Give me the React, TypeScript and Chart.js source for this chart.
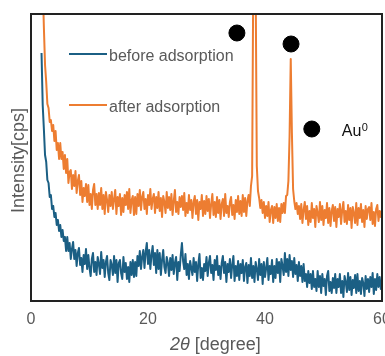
import React, { useEffect, useRef } from "react";
import { Chart, registerables } from "chart.js";

Chart.register(...registerables);

// 2θ scan grid (degrees): first angle and step of the measurement
const TWO_THETA_START = 1.8;
const TWO_THETA_STEP = 0.2;

// Intensity [cps], one value per 2θ step
const BEFORE_ADSORPTION = [
  248, 196, 172, 146, 139, 121, 118, 104, 106, 92,
  95, 84, 88, 76, 81, 70, 76, 64, 71, 60,
  64, 50, 64, 50, 58, 42, 52, 59, 42, 51,
  35, 48, 53, 36, 43, 29, 46, 37, 52, 32,
  46, 33, 25, 42, 48, 29, 39, 26, 44, 37,
  27, 49, 33, 41, 24, 39, 45, 28, 21, 41,
  36, 26, 45, 28, 41, 19, 38, 41, 28, 22,
  44, 29, 38, 22, 34, 19, 39, 26, 41, 24,
  39, 25, 45, 35, 50, 32, 44, 51, 33, 49,
  58, 37, 51, 32, 46, 55, 36, 48, 28, 51,
  32, 48, 26, 41, 51, 34, 28, 44, 38, 25,
  43, 31, 46, 27, 38, 44, 21, 39, 30, 46,
  58, 40, 32, 47, 26, 37, 22, 40, 33, 26,
  43, 29, 39, 20, 37, 47, 23, 33, 21, 37,
  30, 44, 25, 38, 45, 28, 36, 21, 41, 31,
  45, 26, 35, 22, 38, 45, 28, 39, 19, 37,
  29, 42, 23, 36, 45, 20, 35, 25, 40, 21,
  37, 28, 41, 20, 34, 38, 18, 36, 25, 43,
  23, 35, 19, 39, 32, 21, 42, 26, 37, 17,
  39, 24, 33, 43, 21, 35, 27, 41, 19, 35,
  23, 42, 28, 39, 19, 42, 35, 26, 48, 29,
  42, 25, 46, 31, 40, 24, 43, 27, 36, 20,
  39, 25, 35, 19, 37, 20, 27, 14, 30, 18,
  27, 12, 30, 14, 22, 10, 30, 14, 25, 8,
  27, 15, 22, 6, 25, 30, 10, 19, 8, 23,
  13, 27, 8, 22, 14, 27, 8, 20, 4, 25,
  19, 9, 28, 11, 24, 6, 21, 13, 26, 8,
  27, 10, 20, 7, 23, 18, 5, 25, 12, 22,
  9, 24, 14, 28, 7, 22, 11, 27, 14, 24,
  12, 21,
];

const AFTER_ADSORPTION = [
  360, 318, 274, 236, 219, 197, 193, 179, 181, 170,
  176, 160, 170, 151, 158, 142, 158, 142, 149, 132,
  146, 128, 142, 118, 129, 131, 112, 126, 115, 130,
  108, 120, 126, 106, 120, 99, 113, 105, 117, 99,
  116, 96, 107, 92, 111, 117, 96, 107, 92, 108,
  96, 113, 92, 106, 87, 109, 101, 89, 106, 95,
  109, 92, 102, 111, 87, 104, 95, 107, 86, 103,
  89, 106, 96, 109, 92, 112, 88, 101, 105, 86,
  104, 87, 107, 95, 111, 91, 104, 109, 92, 102,
  87, 106, 96, 112, 92, 102, 107, 88, 104, 93,
  109, 90, 103, 84, 105, 99, 88, 109, 93, 104,
  91, 107, 86, 100, 111, 89, 99, 87, 104, 94,
  105, 91, 108, 85, 98, 88, 106, 91, 101, 83,
  99, 105, 87, 101, 81, 99, 92, 106, 85, 100,
  87, 105, 90, 102, 83, 97, 107, 86, 99, 84,
  104, 88, 101, 82, 97, 102, 85, 107, 88, 95,
  84, 99, 104, 86, 96, 82, 101, 89, 105, 87,
  100, 85, 106, 89, 103, 85, 100, 106, 95, 115,
  125, 330, 480, 320, 135, 110, 103, 93, 101, 88,
  99, 83, 95, 85, 99, 79, 91, 95, 78, 94,
  83, 97, 80, 93, 79, 97, 88, 98, 88, 105,
  106, 120, 165, 242, 168, 112, 100, 92, 98, 87,
  95, 82, 97, 78, 91, 99, 82, 95, 76, 90,
  79, 98, 83, 92, 74, 95, 88, 79, 99, 81,
  95, 76, 91, 83, 98, 78, 93, 75, 90, 96,
  80, 94, 74, 92, 84, 97, 77, 91, 99, 79,
  90, 77, 96, 81, 93, 73, 94, 88, 78, 98,
  76, 93, 83, 97, 79, 91, 74, 95, 82, 92,
  94, 81, 98, 77, 89, 75, 92, 96, 80, 90,
  84, 91,
];

// Au0 reflection markers (2θ, intensity) and the legend marker
const AU_MARKER_X = [35.2, 44.45, 48.0];
const AU_MARKER_Y = [268, 257, 172];

const X_TICKS = [0, 20, 40, 60];
const X_MIN = 0;
const X_MAX = 60;
const Y_MIN = 0;
const Y_MAX = 287;

const SERIES_LABELS = ["before adsorption", "after adsorption"];
const SERIES_COLORS = ["#1b5f84", "#ed7d31"];
const X_TITLE_ITALIC = "2θ";
const X_TITLE_REST = " [degree]";
const Y_TITLE = "Intensity[cps]";
const MARKER_LABEL = "Au";
const MARKER_SUP = "0";

const FONT = "'Liberation Sans', Arial, sans-serif";
const TEXT_GRAY = "#595959";

const toPoints = (vals: number[]) =>
  vals.map((y, i) => ({ x: +(TWO_THETA_START + i * TWO_THETA_STEP).toFixed(2), y }));

const decorPlugin = {
  id: "decor",
  afterDatasetsDraw(chart: any) {
    const { ctx, chartArea: a } = chart;
    ctx.save();
    // frame
    ctx.strokeStyle = "#222";
    ctx.lineWidth = 2;
    ctx.strokeRect(a.left, a.top, a.right - a.left, a.bottom - a.top);

    // legend inside plot
    const legendRows = [40, 91];
    ctx.font = `16px ${FONT}`;
    ctx.textBaseline = "alphabetic";
    ctx.textAlign = "left";
    SERIES_LABELS.forEach((label, i) => {
      const y = a.top + legendRows[i];
      ctx.strokeStyle = SERIES_COLORS[i];
      ctx.lineWidth = 2;
      ctx.beginPath();
      ctx.moveTo(a.left + 38, y);
      ctx.lineTo(a.left + 76, y);
      ctx.stroke();
      ctx.fillStyle = TEXT_GRAY;
      ctx.fillText(label, a.left + 78, y + 6.5);
    });

    // Au0 label next to the legend marker
    const xs = chart.scales.x;
    const ys = chart.scales.y;
    const mx = xs.getPixelForValue(AU_MARKER_X[2]);
    const my = ys.getPixelForValue(AU_MARKER_Y[2]);
    ctx.fillStyle = "#111";
    ctx.font = `16px ${FONT}`;
    ctx.fillText(MARKER_LABEL, mx + 30, my + 7);
    const w = ctx.measureText(MARKER_LABEL).width;
    ctx.font = `11px ${FONT}`;
    ctx.fillText(MARKER_SUP, mx + 30 + w + 0.5, my + 1.5);

    ctx.restore();
  },
  afterDraw(chart: any) {
    const { ctx, chartArea: a } = chart;
    ctx.save();
    ctx.fillStyle = TEXT_GRAY;
    ctx.textBaseline = "alphabetic";
    // x title
    ctx.textAlign = "left";
    ctx.font = `italic 18px ${FONT}`;
    const x0 = 170;
    const base = a.bottom + 49;
    ctx.fillText(X_TITLE_ITALIC, x0, base);
    const wi = ctx.measureText(X_TITLE_ITALIC).width;
    ctx.font = `18px ${FONT}`;
    ctx.fillText(X_TITLE_REST, x0 + wi, base);
    // y title
    ctx.translate(24, (a.top + a.bottom) / 2 + 3);
    ctx.rotate(-Math.PI / 2);
    ctx.textAlign = "center";
    ctx.font = `18px ${FONT}`;
    ctx.fillText(Y_TITLE, 0, 0);
    ctx.restore();
  },
};

export default function App() {
  const canvasRef = useRef<HTMLCanvasElement | null>(null);

  useEffect(() => {
    const canvas = canvasRef.current;
    if (!canvas) return;
    const chart = new Chart(canvas, {
      type: "line",
      data: {
        datasets: [
          {
            type: "scatter",
            label: "Au0",
            data: AU_MARKER_X.map((x, i) => ({ x, y: AU_MARKER_Y[i] })),
            backgroundColor: "#000",
            borderColor: "#000",
            pointRadius: 8,
            pointHoverRadius: 8,
            showLine: false,
            clip: false as any,
          } as any,
          {
            label: SERIES_LABELS[0],
            data: toPoints(BEFORE_ADSORPTION),
            borderColor: SERIES_COLORS[0],
            borderWidth: 2,
            pointRadius: 0,
            tension: 0,
            borderJoinStyle: "round",
          },
          {
            label: SERIES_LABELS[1],
            data: toPoints(AFTER_ADSORPTION),
            borderColor: SERIES_COLORS[1],
            borderWidth: 2,
            pointRadius: 0,
            tension: 0,
            borderJoinStyle: "round",
          },
        ],
      },
      options: {
        responsive: false,
        animation: false,
        devicePixelRatio: 1,
        layout: { autoPadding: false, padding: { left: 31, top: 14, right: 3, bottom: 0 } },
        plugins: { legend: { display: false }, tooltip: { enabled: false } },
        events: [],
        scales: {
          x: {
            type: "linear",
            min: X_MIN,
            max: X_MAX,
            afterBuildTicks: (s: any) => {
              s.ticks = X_TICKS.map((v) => ({ value: v }));
            },
            afterFit: (s: any) => {
              s.height = 55;
              s.paddingLeft = 0;
              s.paddingRight = 0;
            },
            grid: { display: false, drawTicks: false },
            border: { display: false },
            ticks: {
              color: TEXT_GRAY,
              font: { family: FONT, size: 16 },
              padding: 9,
              maxRotation: 0,
              autoSkip: false,
            },
          },
          y: {
            type: "linear",
            display: false,
            min: Y_MIN,
            max: Y_MAX,
          },
        },
      } as any,
      plugins: [decorPlugin],
    });
    return () => chart.destroy();
  }, []);

  return (
    <div
      style={{
        position: "fixed",
        left: 0,
        top: 0,
        width: 385,
        height: 356,
        overflow: "hidden",
        background: "#fff",
      }}
    >
      <canvas
        ref={canvasRef}
        width={385}
        height={356}
        style={{ display: "block", width: 385, height: 356 }}
      />
    </div>
  );
}
